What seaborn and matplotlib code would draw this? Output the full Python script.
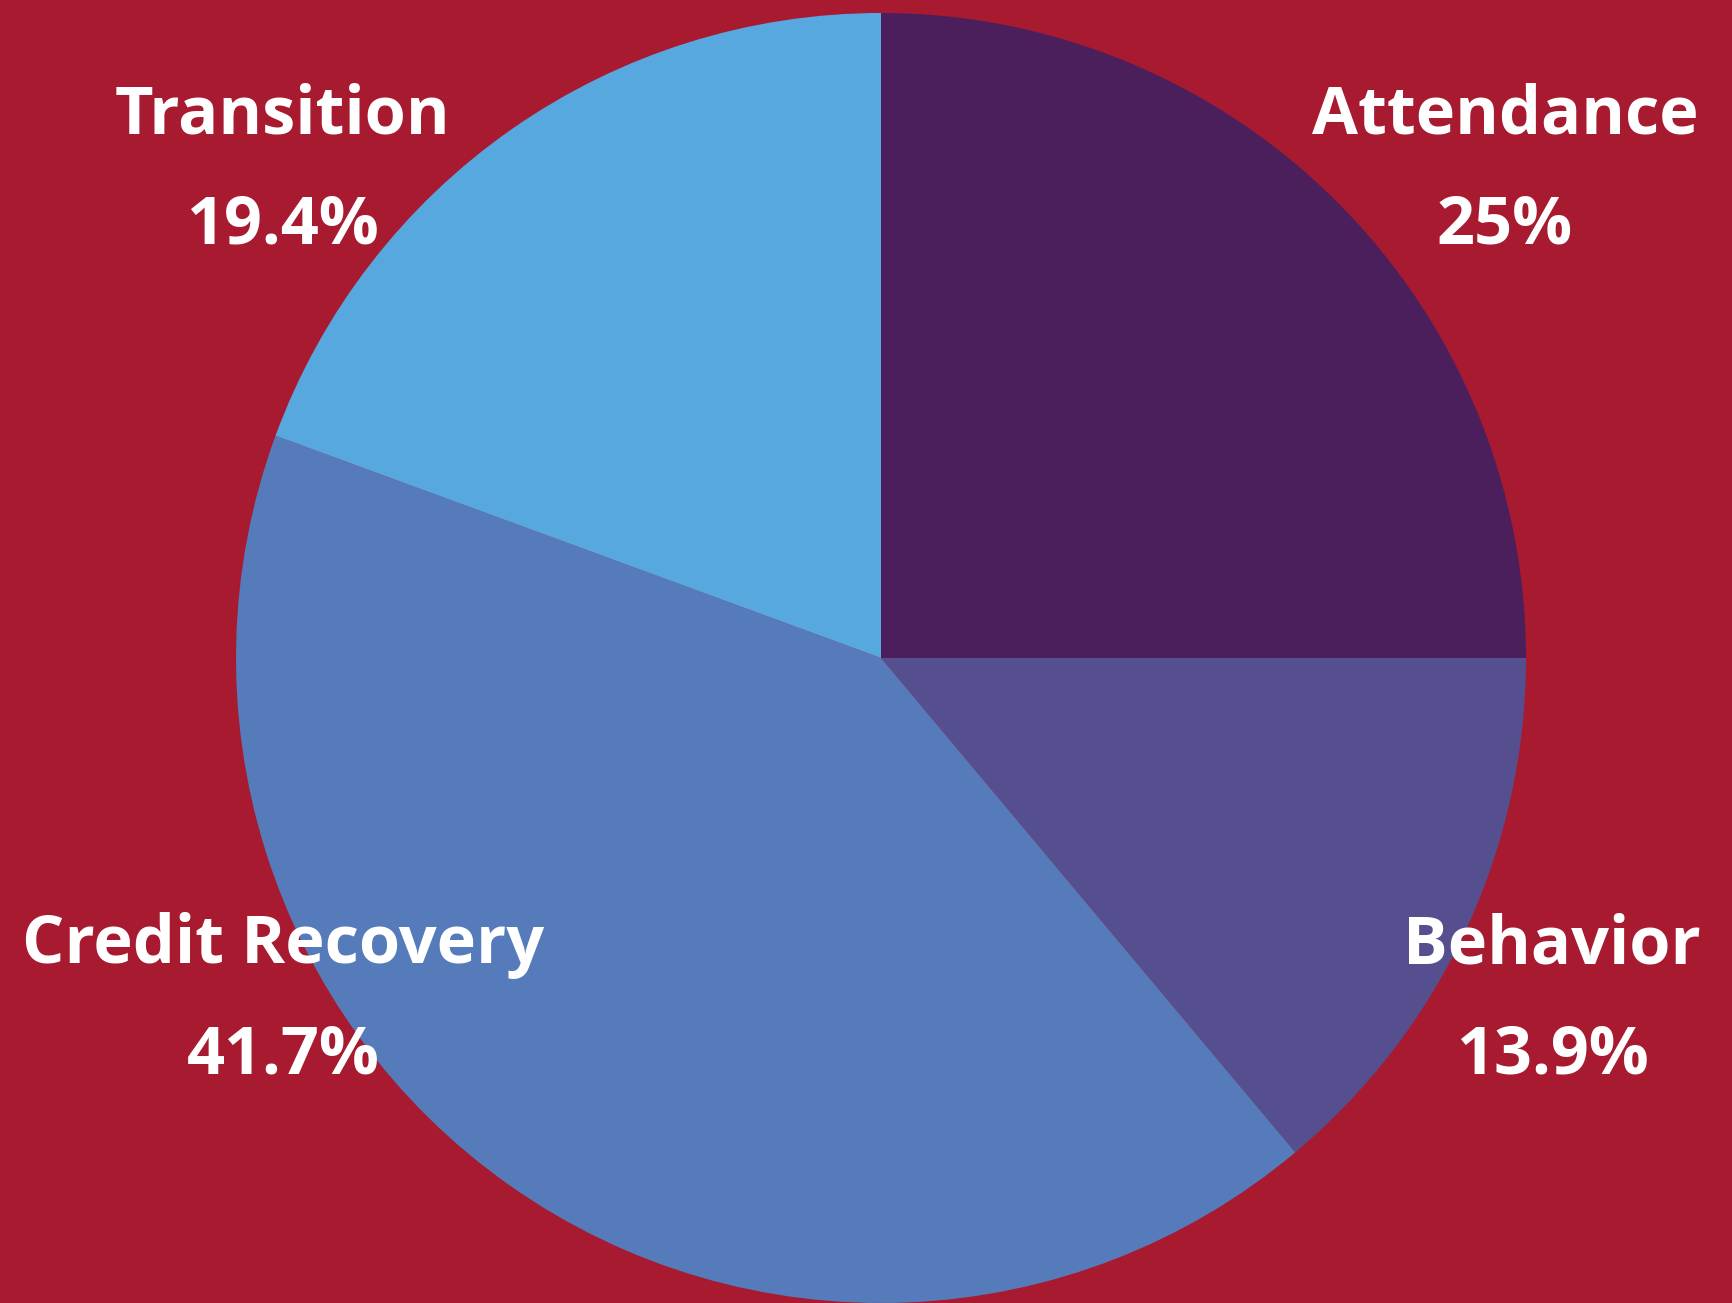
import matplotlib
matplotlib.use("Agg")
import matplotlib.pyplot as plt
import seaborn as sns

categories = ["Attendance", "Behavior", "Credit Recovery", "Transition"]
shares = [25.0, 13.9, 41.7, 19.4]
pct_labels = ["25%", "13.9%", "41.7%", "19.4%"]
colors = ["#4b1f5c", "#564f8f", "#557bbb", "#58a8e0"]

BG = "#a81a30"

sns.set_theme(style="white")
plt.rcParams["font.family"] = ["Open Sans", "DejaVu Sans"]

W, H = 1733, 1303
fig = plt.figure(figsize=(W / 100, H / 100), dpi=100, facecolor=BG)

# pie centre (881, 658) px, radius 645 px
cx, cy, r = 881, 658, 645
ax = fig.add_axes([(cx - r) / W, (H - cy - r) / H, 2 * r / W, 2 * r / H])
ax.set_facecolor("none")
ax.pie(shares, colors=colors, startangle=90, counterclock=False,
       radius=1, wedgeprops=dict(linewidth=0))
ax.set_xlim(-1, 1)
ax.set_ylim(-1, 1)
ax.set_aspect("equal")
ax.axis("off")

# label anchors in pixels: (x centre, baseline name, baseline pct)
label_pos = {
    "Attendance": (1505, 133, 243),
    "Behavior": (1552, 963, 1073),
    "Credit Recovery": (283, 963, 1073),
    "Transition": (282, 133, 243),
}
for name, pct in zip(categories, pct_labels):
    x, y1, y2 = label_pos[name]
    fig.text(x / W, 1 - y1 / H, name, ha="center", va="baseline",
             color="white", fontsize=48, fontweight="bold")
    fig.text(x / W, 1 - y2 / H, pct, ha="center", va="baseline",
             color="white", fontsize=48, fontweight="bold")

fig.savefig("out.png", dpi=100, facecolor=BG)
